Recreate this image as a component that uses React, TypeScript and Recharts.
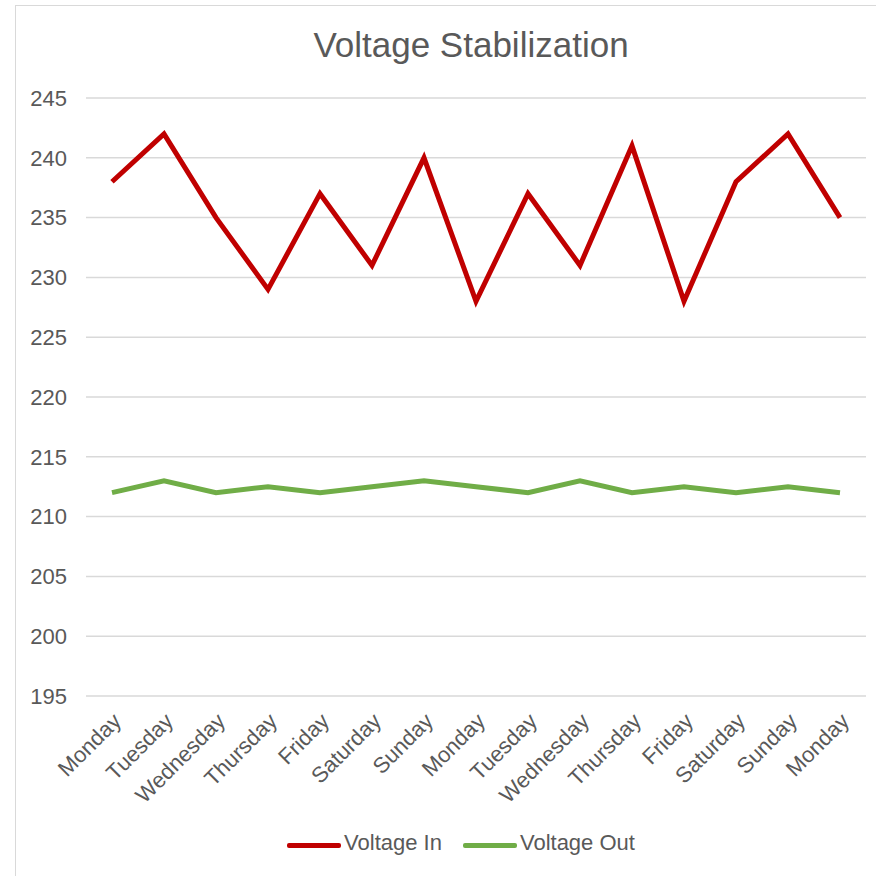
import React from "react";
import { CartesianGrid, Legend, Line, LineChart, XAxis, YAxis } from "recharts";

// Voltage in vs. stabilised voltage out over two weeks.
const DAYS = [
  "Monday", "Tuesday", "Wednesday", "Thursday", "Friday", "Saturday", "Sunday",
  "Monday", "Tuesday", "Wednesday", "Thursday", "Friday", "Saturday", "Sunday",
  "Monday",
];
const VOLTAGE_IN = [238, 242, 235, 229, 237, 231, 240, 228, 237, 231, 241, 228, 238, 242, 235];
const VOLTAGE_OUT = [212, 213, 212, 212.5, 212, 212.5, 213, 212.5, 212, 213, 212, 212.5, 212, 212.5, 212];
const Y_TICKS = [195, 200, 205, 210, 215, 220, 225, 230, 235, 240, 245];

const SERIES = [
  { key: "in", name: "Voltage In", color: "#c00000" },
  { key: "out", name: "Voltage Out", color: "#70ad47" },
];

const data = DAYS.map((day, i) => ({ day, in: VOLTAGE_IN[i], out: VOLTAGE_OUT[i] }));

const FONT = '"Liberation Sans", Arial, sans-serif';
const TEXT = "#595959";

function DayTick({ x, y, payload }: any) {
  return (
    <text
      x={x + 5}
      y={y + 13}
      dy="0.35em"
      textAnchor="end"
      transform={`rotate(-45 ${x + 5} ${y + 13})`}
      fill={TEXT}
      fontSize={22}
      fontFamily={FONT}
    >
      {payload.value}
    </text>
  );
}

function LegendRow() {
  return (
    <div style={{ display: "flex", justifyContent: "center", alignItems: "center", fontFamily: FONT, fontSize: 22, color: TEXT, lineHeight: "26px" }}>
      {SERIES.map((s, i) => (
        <div key={s.key} style={{ display: "flex", alignItems: "center", marginLeft: i ? 21 : 0 }}>
          <span style={{ display: "inline-block", width: 54, height: 5, borderRadius: 2, background: s.color, marginTop: 5 }} />
          <span style={{ marginLeft: 3 }}>{s.name}</span>
        </div>
      ))}
    </div>
  );
}

export default function App() {
  return (
    <div style={{ position: "absolute", left: 0, top: 0, width: 876, height: 876, background: "#fff", overflow: "hidden" }}>
      <div style={{ position: "absolute", left: 15, top: 5, width: 900, height: 900, border: "1px solid #d9d9d9" }} />
      <div style={{ position: "absolute", left: 0, top: 25, width: 942, textAlign: "center", fontFamily: FONT, fontSize: 35, color: TEXT }}>
        Voltage Stabilization
      </div>
      <div style={{ position: "absolute", left: 0, top: 0 }}>
        <LineChart width={876} height={876} data={data} margin={{ top: 98, right: 10, bottom: 0, left: 0 }}>
          <CartesianGrid vertical={false} stroke="#d9d9d9" strokeWidth={1.5} />
          <XAxis
            dataKey="day"
            axisLine={false}
            tickLine={false}
            interval={0}
            height={180}
            padding={{ left: 26, right: 26 }}
            tick={<DayTick />}
          />
          <YAxis
            domain={[195, 245]}
            ticks={Y_TICKS}
            width={86}
            axisLine={false}
            tickLine={false}
            tickMargin={13}
            tick={{ fill: TEXT, fontSize: 22, fontFamily: FONT }}
          />
          <Legend
            layout="horizontal"
            verticalAlign="middle"
            align="center"
            content={() => <LegendRow />}
            wrapperStyle={{ top: 830, left: 23, width: 876 }}
          />
          {SERIES.map((s) => (
            <Line
              key={s.key}
              dataKey={s.key}
              name={s.name}
              stroke={s.color}
              strokeWidth={5}
              dot={false}
              activeDot={false}
              isAnimationActive={false}
            />
          ))}
        </LineChart>
      </div>
    </div>
  );
}
